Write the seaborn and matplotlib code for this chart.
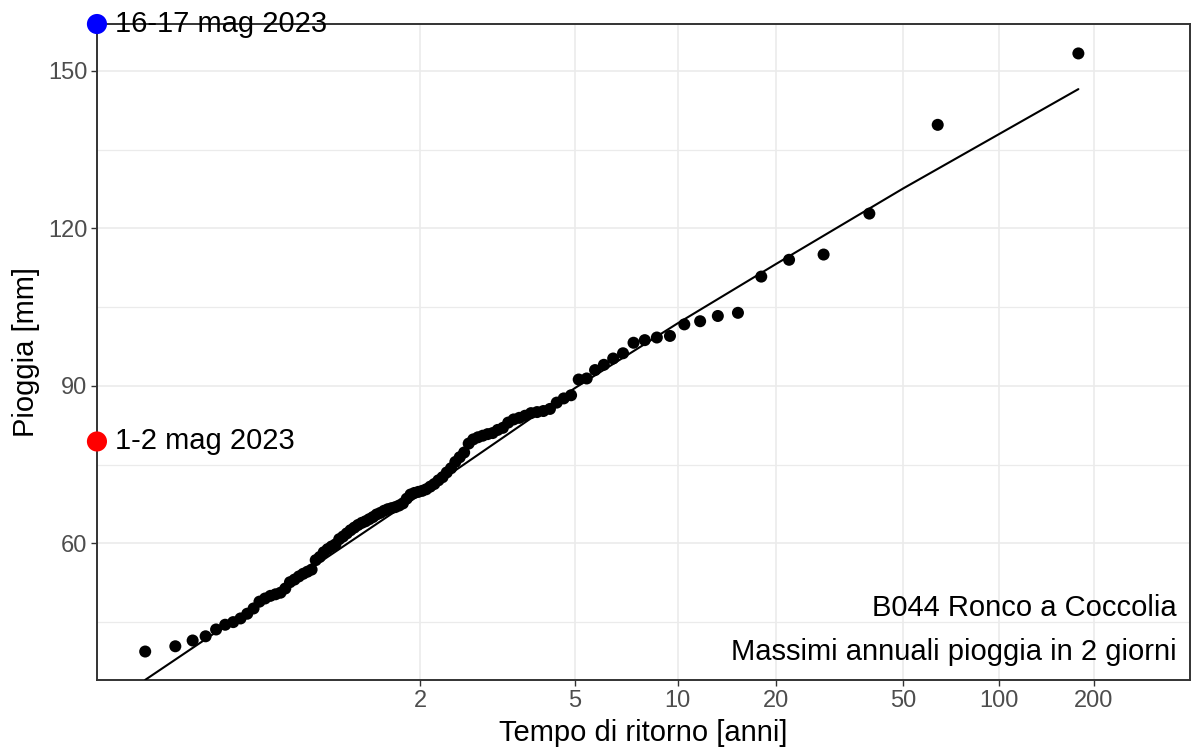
import numpy as np
import pandas as pd
import seaborn as sns
import matplotlib.pyplot as plt
from matplotlib.ticker import FixedLocator, NullLocator
from matplotlib.transforms import blended_transform_factory

# Annual maxima of 2-day rainfall [mm], sorted
rain_mm = [
    39.4, 40.4, 41.5, 42.3, 43.6, 44.5, 45.0, 45.7, 46.6, 47.6,
    48.9, 49.5, 50.0, 50.3, 50.6, 51.4, 52.6, 53.1, 53.7, 54.2,
    54.6, 55.0, 56.8, 57.4, 58.3, 58.9, 59.4, 59.8, 60.8, 61.3,
    61.9, 62.5, 63.0, 63.5, 63.9, 64.2, 64.6, 65.0, 65.5, 65.8,
    66.2, 66.5, 66.7, 66.9, 67.2, 67.6, 68.5, 69.3, 69.6, 69.8,
    70.0, 70.3, 70.8, 71.3, 72.0, 72.6, 73.5, 74.3, 75.5, 76.4,
    77.3, 79.0, 79.8, 80.2, 80.5, 80.8, 81.0, 81.6, 82.0, 83.0,
    83.6, 83.9, 84.3, 84.8, 85.0, 85.2, 85.6, 86.8, 87.6, 88.2,
    91.2, 91.4, 93.0, 94.0, 95.2, 96.2, 98.2, 98.7, 99.2, 99.5,
    101.7, 102.3, 103.3, 103.9, 110.8, 114.0, 115.0, 122.8, 139.7, 153.3,
]

# Empirical return period [years] of each value (as placed on the chart)
return_period = [
    1.0056, 1.0158, 1.0262, 1.0369, 1.0477, 1.0588, 1.0701, 1.0817, 1.0935, 1.1056,
    1.1179, 1.1305, 1.1434, 1.1567, 1.1702, 1.1840, 1.1982, 1.2127, 1.2276, 1.2428,
    1.2584, 1.2744, 1.2909, 1.3077, 1.3250, 1.3428, 1.3611, 1.3798, 1.3991, 1.4189,
    1.4393, 1.4603, 1.4819, 1.5042, 1.5271, 1.5508, 1.5752, 1.6004, 1.6264, 1.6532,
    1.6810, 1.7097, 1.7394, 1.7702, 1.8020, 1.8350, 1.8693, 1.9049, 1.9418, 1.9802,
    2.0202, 2.0618, 2.1051, 2.1503, 2.1975, 2.2469, 2.2985, 2.3525, 2.4091, 2.4684,
    2.5308, 2.5965, 2.6656, 2.7385, 2.8155, 2.8970, 2.9833, 3.0749, 3.1724, 3.2762,
    3.3870, 3.5056, 3.6328, 3.7696, 3.9171, 4.0765, 4.2496, 4.4379, 4.6438, 4.8696,
    5.1186, 5.3944, 5.7016, 6.0459, 6.4344, 6.8764, 7.3835, 7.9713, 8.6609, 9.4811,
    10.473, 11.696, 13.243, 15.262, 18.007, 21.956, 28.124, 39.109, 64.179, 178.79,
]

# Fitted distribution curve (return period, rainfall)
fit_T = [1.0056, 2, 5, 10, 20, 50, 178.79]
fit_mm = [34.0, 69.3, 89.6, 101.9, 113.2, 127.6, 146.5]

# Recent events
event_labels = ["16-17 mag 2023", "1-2 mag 2023"]
event_mm = [158.9, 79.4]
event_colors = ["#0000FF", "#FF0000"]

x_ticks = [2, 5, 10, 20, 50, 100, 200]
y_ticks = [60, 90, 120, 150]
y_minor = [45, 75, 105, 135]


def gumbel_fwd(T):
    T = np.asarray(T, dtype=float)
    with np.errstate(all="ignore"):
        return -np.log(-np.log(1.0 - 1.0 / T))


def gumbel_inv(v):
    v = np.asarray(v, dtype=float)
    with np.errstate(all="ignore"):
        return 1.0 / (1.0 - np.exp(-np.exp(-v)))


obs = pd.DataFrame({"T": return_period, "mm": rain_mm})
fit = pd.DataFrame({"T": fit_T, "mm": fit_mm})

sns.set_theme(style="white")
plt.rcParams["font.family"] = ["Liberation Sans", "DejaVu Sans"]

fig = plt.figure(figsize=(11.94, 7.53), dpi=100)
ax = fig.add_axes([0.0812, 0.0969, 0.9154, 0.8712])
ax.set_xscale("function", functions=(gumbel_fwd, gumbel_inv))

sns.lineplot(data=fit, x="T", y="mm", ax=ax, color="black", linewidth=1.5,
             sort=False, zorder=3)
sns.scatterplot(data=obs, x="T", y="mm", ax=ax, color="black", s=75,
                edgecolor="none", zorder=4)

ax.set_xlim(gumbel_inv(-2.0), gumbel_inv(6.0))
ax.set_ylim(33.97, 158.9)

ax.xaxis.set_major_locator(FixedLocator(x_ticks))
ax.xaxis.set_minor_locator(NullLocator())
ax.set_xticklabels([str(t) for t in x_ticks])
ax.yaxis.set_major_locator(FixedLocator(y_ticks))
ax.yaxis.set_minor_locator(FixedLocator(y_minor))

ax.grid(True, which="major", color="#EBEBEB", linewidth=1.2, zorder=0)
ax.grid(True, which="minor", axis="y", color="#EBEBEB", linewidth=0.9, zorder=0)
ax.set_axisbelow(True)

for sp in ax.spines.values():
    sp.set_color("#333333")
    sp.set_linewidth(1.4)

ax.tick_params(axis="both", which="major", length=4, width=1.0, color="#333333",
               labelsize=17, labelcolor="#4D4D4D", pad=3, bottom=True, left=True)
ax.tick_params(axis="y", which="minor", length=0)

ax.set_xlabel("Tempo di ritorno [anni]", fontsize=21, color="black", labelpad=5)
ax.set_ylabel("Pioggia [mm]", fontsize=21, color="black", labelpad=6)

# event markers on the left edge
trans = blended_transform_factory(ax.transAxes, ax.transData)
for lab, val, col in zip(event_labels, event_mm, event_colors):
    ax.scatter([0], [val], transform=trans, s=210, color=col, clip_on=False,
               zorder=6, edgecolor="none")
    ax.annotate(lab, xy=(0, val), xycoords=trans, xytext=(13, 0),
                textcoords="offset points", va="center", ha="left",
                fontsize=21, color="black", zorder=7, annotation_clip=False)

ax.text(0.988, 0.0976, "B044 Ronco a Coccolia", transform=ax.transAxes,
        ha="right", va="baseline", fontsize=21, color="black")
ax.text(0.988, 0.0305, "Massimi annuali pioggia in 2 giorni", transform=ax.transAxes,
        ha="right", va="baseline", fontsize=21, color="black")

fig.savefig("out.png", dpi=100)
